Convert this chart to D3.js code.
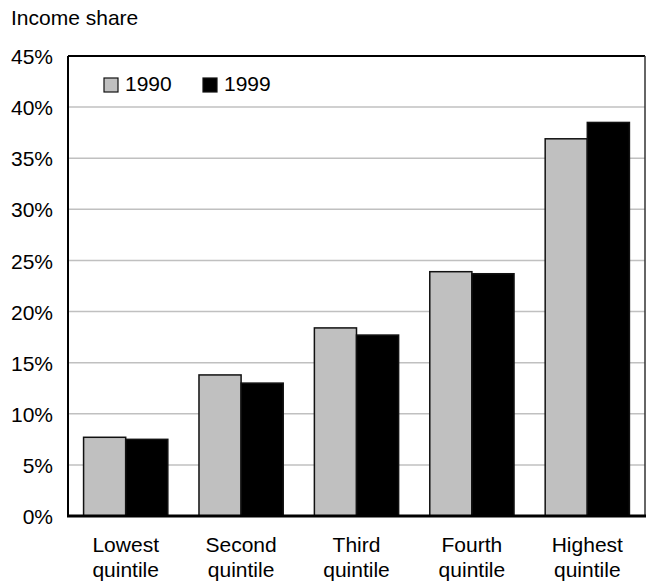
<!DOCTYPE html>
<html><head><meta charset="utf-8">
<script src="https://cdn.jsdelivr.net/npm/d3@7"></script>
<style>body{margin:0;background:#fff}svg{display:block}text{font-family:"Liberation Sans",Arial,sans-serif;fill:#000}</style>
</head><body><svg id="c" width="646" height="583"></svg>
<script>
const categories = [["Lowest","quintile"],["Second","quintile"],["Third","quintile"],["Fourth","quintile"],["Highest","quintile"]];
const seriesNames = ["1990","1999"];
const values1990 = [7.7, 13.8, 18.4, 23.9, 36.9];
const values1999 = [7.5, 13.0, 17.7, 23.7, 38.5];
const yTicks = [0,5,10,15,20,25,30,35,40,45];
const colors = ["#c0c0c0","#000000"];

const svg = d3.select("#c");
const L=68, R=645, T=56, B=516;
const fs = 21;
const x = d3.scaleBand().domain(d3.range(categories.length)).range([L,R]).paddingInner(0.27).paddingOuter(0.135);
const xs = d3.scaleBand().domain([0,1]).range([0,x.bandwidth()]);
const y = d3.scaleLinear().domain([0,45]).range([B,T]);

// gridlines
svg.append("g").selectAll("line").data(yTicks.filter(d=>d>0&&d<45)).join("line")
  .attr("x1",L).attr("x2",R).attr("y1",d=>y(d)).attr("y2",d=>y(d))
  .attr("stroke","#c0c0c0").attr("stroke-width",1.5);

// y labels
const yAxis = d3.axisLeft(y).tickValues(yTicks).tickFormat(d=>d+"%").tickSize(0).tickPadding(15);
const ga = svg.append("g").attr("transform",`translate(${L},0)`).call(yAxis);
ga.select(".domain").remove();
ga.selectAll("text").attr("font-size",fs).attr("font-family","Liberation Sans, Arial, sans-serif").attr("fill","#000").attr("dy","0.36em");

// bars
const data = [];
categories.forEach((c,i)=>{
  data.push({i,s:0,v:values1990[i]});
  data.push({i,s:1,v:values1999[i]});
});
svg.append("g").selectAll("rect").data(data).join("rect")
  .attr("x",d=>x(d.i)+xs(d.s)).attr("width",xs.bandwidth())
  .attr("y",d=>y(d.v)).attr("height",d=>B-y(d.v))
  .attr("fill",d=>colors[d.s]).attr("stroke","#111").attr("stroke-width",1.5);

// frame
svg.append("line").attr("x1",L).attr("x2",L).attr("y1",T).attr("y2",B).attr("stroke","#000").attr("stroke-width",2);
svg.append("line").attr("x1",L).attr("x2",R).attr("y1",T).attr("y2",T).attr("stroke","#000").attr("stroke-width",2);
svg.append("line").attr("x1",R).attr("x2",R).attr("y1",T).attr("y2",B).attr("stroke","#333").attr("stroke-width",1.5);
svg.append("line").attr("x1",L-1).attr("x2",R+1).attr("y1",B).attr("y2",B).attr("stroke","#000").attr("stroke-width",3);

// x labels
const gx = svg.append("g");
categories.forEach((c,i)=>{
  const t = gx.append("text").attr("text-anchor","middle").attr("font-size",fs)
    .attr("x",x(i)+x.bandwidth()/2).attr("y",552);
  c.forEach((ln,k)=>t.append("tspan").attr("x",x(i)+x.bandwidth()/2).attr("dy",k?25:0).text(ln));
});

// title
svg.append("text").attr("x",11).attr("y",25).attr("font-size",fs).text("Income share");

// legend
const legX = [104,203];
seriesNames.forEach((n,k)=>{
  svg.append("rect").attr("x",legX[k]).attr("y",78).attr("width",14).attr("height",14)
    .attr("fill",colors[k]).attr("stroke","#111").attr("stroke-width",1.2);
  svg.append("text").attr("x",legX[k]+21).attr("y",91).attr("font-size",fs).text(n);
});
</script></body></html>
